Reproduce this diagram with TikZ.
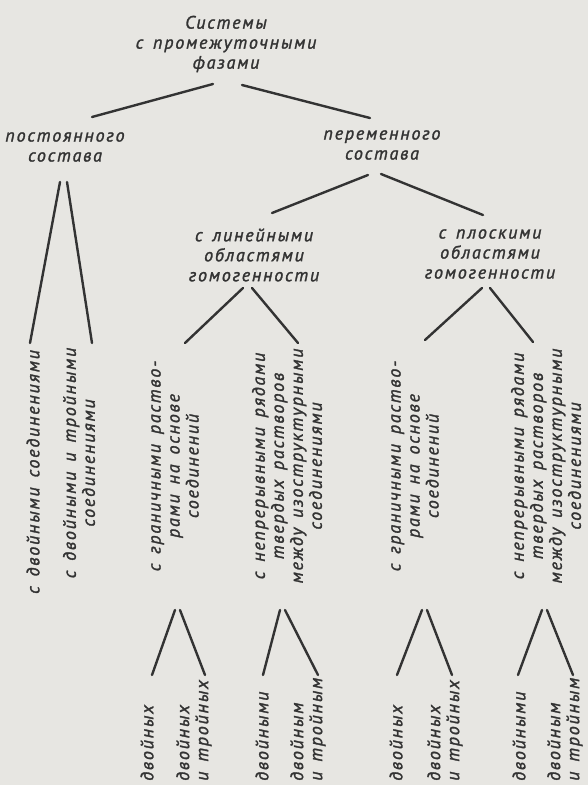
\documentclass[tikz,border=0pt]{standalone}
\usepackage{fontspec}
\setmainfont{PT Sans}[LetterSpace=10, WordSpace=1.5, FakeBold=1.6]
\usetikzlibrary{calc}
\definecolor{bgcol}{HTML}{E7E6E2}
\definecolor{ink}{HTML}{333333}
\tikzset{
  lbl/.style={inner sep=0pt, align=center, text=ink, font=\fontsize{18}{20}\selectfont\itshape},
  vlbl/.style={lbl, rotate=90, font=\fontsize{18}{19}\selectfont\itshape},
  blbl/.style={vlbl, align=left, anchor=west},
  link/.style={draw=ink, line width=2.4pt, line cap=round}
}
\begin{document}
\begin{tikzpicture}[x=1pt,y=-1pt]
\fill[bgcol] (0,0) rectangle (588,785);
\useasboundingbox (0,0) rectangle (588,785);
% upper level
\node[lbl] (top) at (226,44) {Системы\\с промежуточными\\фазами};
\node[lbl] (post) at (65,147) {постоянного\\состава};
\node[lbl] (perem) at (382,145) {переменного\\состава};
\node[lbl] (lin) at (254,255) {с линейными\\областями\\гомогенности};
\node[lbl] (plosk) at (490,254) {с плоскими\\областями\\гомогенности};
% vertical labels
\node[vlbl] (p1) at (33,472) {с двойными соединениями};
\node[vlbl] (p2) at (79,463) {с двойными и тройными\\соединениями};
\node[vlbl] (l1) at (175,466) {с граничными раство-\\рами на основе\\соединений};
\node[vlbl] (l2) at (287,466) {с непрерывными рядами\\твердых растворов\\между изоструктурными\\соединениями};
\node[vlbl] (s1) at (415,466) {с граничными раство-\\рами на основе\\соединений};
\node[vlbl] (s2) at (546,466) {с непрерывными рядами\\твердых растворов\\между изоструктурными\\соединениями};
% bottom labels
\node[blbl] (l1a) at (147,781) {двойных};
\node[blbl] (l1b) at (194,781) {двойных\\и тройных};
\node[blbl] (l2a) at (262,781) {двойными};
\node[blbl] (l2b) at (308,781) {двойным\\и тройным};
\node[blbl] (s1a) at (396,781) {двойных};
\node[blbl] (s1b) at (445,781) {двойных\\и тройных};
\node[blbl] (s2a) at (519,781) {двойными};
\node[blbl] (s2b) at (565,781) {двойным\\и тройным};
% connectors
\draw[link] ($(top)+(-13,40)$) -- ($(post)+(27,-30)$);
\draw[link] ($(top)+(16,41)$) -- ($(perem)+(-12,-27)$);
\draw[link] ($(post)+(-5,35)$) -- ($(p1)+(-3,-129)$);
\draw[link] ($(post)+(2,35)$) -- ($(p2)+(13,-120)$);
\draw[link] ($(perem)+(-14,30)$) -- ($(lin)+(18,-42)$);
\draw[link] ($(perem)+(-1,29)$) -- ($(plosk)+(-7,-39)$);
\draw[link] ($(lin)+(-11,33)$) -- ($(l1)+(10,-123)$);
\draw[link] ($(lin)+(-2,33)$) -- ($(l2)+(11,-123)$);
\draw[link] ($(plosk)+(-8,34)$) -- ($(s1)+(10,-126)$);
\draw[link] ($(plosk)+(0,34)$) -- ($(s2)+(-13,-124)$);
\draw[link] ($(l1)+(0,144)$) -- ($(l1a.west)+(5,-106)$);
\draw[link] ($(l1)+(5,144)$) -- ($(l1b.west)+(11,-106)$);
\draw[link] ($(l2)+(-7,144)$) -- ($(l2a.west)+(1,-106)$);
\draw[link] ($(l2)+(-2,144)$) -- ($(l2b.west)+(10,-106)$);
\draw[link] ($(s1)+(7,144)$) -- ($(s1a.west)+(1,-106)$);
\draw[link] ($(s1)+(12,144)$) -- ($(s1b.west)+(7,-106)$);
\draw[link] ($(s2)+(-4,144)$) -- ($(s2a.west)+(-1,-106)$);
\draw[link] ($(s2)+(1,144)$) -- ($(s2b.west)+(8,-106)$);
\end{tikzpicture}
\end{document}
